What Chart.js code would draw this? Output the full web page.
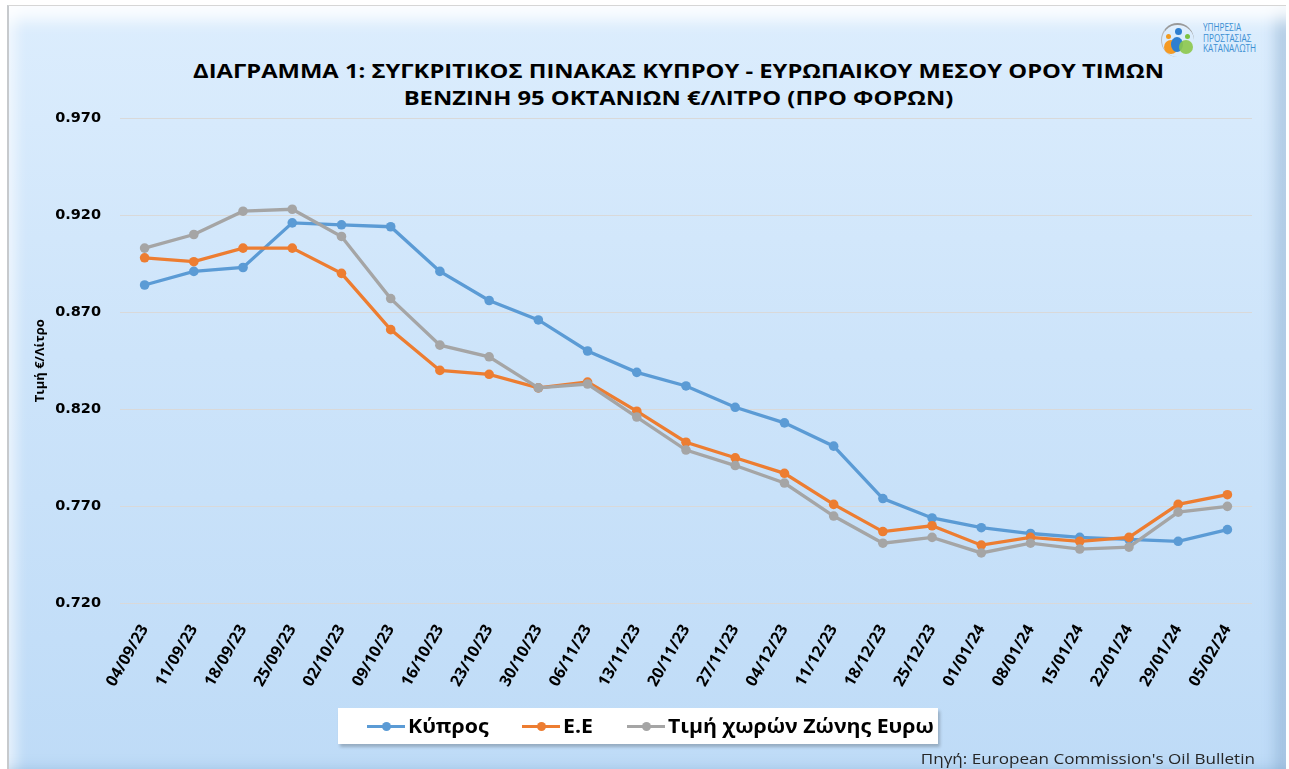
<!DOCTYPE html>
<html>
<head>
<meta charset="utf-8">
<script src="https://cdn.jsdelivr.net/npm/chart.js@4.4.0/dist/chart.umd.min.js"></script>
<style>
  body { margin: 0; background: #fff; width: 1289px; height: 769px; overflow: hidden; position: relative; font-family: "Open Sans", sans-serif; }
  .panel {
    position: absolute; left: 7px; top: 5px; width: 1277px; height: 775px;
    border-left: 2px solid #c7cacd; border-top: 1px solid #d6d6d6;
    background: linear-gradient(to bottom, #dcedfd 0%, #cde4fa 45%, #bedbf7 100%);
    box-shadow: inset 0 24px 16px -10px rgba(255,255,255,0.9),
                inset -18px 0 14px -8px rgba(110,150,190,0.4),
                inset 0 -30px 14px -18px rgba(110,150,190,0.35),
                inset 16px 0 12px -8px rgba(255,255,255,0.55);
  }
  .wrap { position: absolute; left: 0; top: 0; width: 1289px; height: 769px; }
  .title {
    position: absolute; left: 0; top: 58px; width: 1357px; text-align: center;
    font-weight: bold; font-size: 19px; line-height: 27px; color: #000;
    transform: scaleX(1.25); transform-origin: 678.5px 0;
  }
  .logo { position: absolute; left: 1160px; top: 20px; width: 110px; height: 40px; }
  .logo .arc { position: absolute; left: 1px; top: 3px; width: 32px; height: 32px; border-radius: 50%; border-top: 2px solid #9a9a9a; border-left: 1px solid #bbb; }
  .logo .dot { position: absolute; border-radius: 50%; }
  .logo .txt { position: absolute; left: 43px; top: 2px; font-size: 10.5px; line-height: 10.5px; color: #3b8fd3;
    transform: scaleX(0.78); transform-origin: 0 0; }
  .legend {
    position: absolute; left: 338px; top: 708px; width: 600px; height: 36px; background: #fff;
    box-shadow: 2px 3px 3px rgba(0,0,0,0.22);
    font-weight: bold; font-size: 19px; color: #000;
  }
  .legend .item { position: absolute; top: 0; height: 36px; display: flex; align-items: center; }
  .legend .mk { position: relative; width: 38px; height: 3px; margin-right: 3px; }
  .legend .mk span { position: absolute; left: 15px; top: -3px; width: 9px; height: 9px; border-radius: 50%; }
  .legend .lb { display: inline-block; transform: scaleX(1.12); transform-origin: 0 50%; white-space: nowrap; }
  .source { position: absolute; right: 34px; top: 749px; font-size: 14px; color: #262626;
    transform: scaleX(1.22); transform-origin: 100% 50%; }
</style>
</head>
<body>
<div class="panel"></div>
<div class="title">ΔΙΑΓΡΑΜΜΑ 1: ΣΥΓΚΡΙΤΙΚΟΣ ΠΙΝΑΚΑΣ ΚΥΠΡΟΥ - ΕΥΡΩΠΑΙΚΟΥ ΜΕΣΟΥ ΟΡΟΥ ΤΙΜΩΝ<br>ΒΕΝΖΙΝΗ 95 ΟΚΤΑΝΙΩΝ €/ΛΙΤΡΟ (ΠΡΟ ΦΟΡΩΝ)</div>
<div class="logo">
  <div class="arc"></div>
  <div class="dot" style="left:15px;top:8px;width:7px;height:7px;background:#2f7fd0"></div>
  <div class="dot" style="left:6px;top:14px;width:5px;height:5px;background:#f29a1f"></div>
  <div class="dot" style="left:25px;top:14px;width:5px;height:5px;background:#7cc242"></div>
  <div class="dot" style="left:4px;top:20px;width:14px;height:14px;background:#f59a23"></div>
  <div class="dot" style="left:11px;top:17px;width:12px;height:15px;background:#2f7fd0"></div>
  <div class="dot" style="left:19px;top:20px;width:14px;height:14px;background:#8cc84b;opacity:0.9"></div>
  <div class="txt">ΥΠΗΡΕΣΙΑ<br>ΠΡΟΣΤΑΣΙΑΣ<br>ΚΑΤΑΝΑΛΩΤΗ</div>
</div>
<div class="wrap"><canvas id="chart" width="1289" height="769"></canvas></div>
<div class="legend" id="legend"></div>
<div class="source">Πηγή: European Commission's Oil Bulletin</div>

<script>
// εβδομάδες (Δευτέρα)
const dates = ['04/09/23', '11/09/23', '18/09/23', '25/09/23', '02/10/23', '09/10/23', '16/10/23',
  '23/10/23', '30/10/23', '06/11/23', '13/11/23', '20/11/23', '27/11/23', '04/12/23', '11/12/23',
  '18/12/23', '25/12/23', '01/01/24', '08/01/24', '15/01/24', '22/01/24', '29/01/24', '05/02/24'];

// τιμές €/λίτρο προ φόρων
const cyprus = [0.884, 0.891, 0.893, 0.916, 0.915, 0.914, 0.891, 0.876, 0.866, 0.850, 0.839, 0.832,
  0.821, 0.813, 0.801, 0.774, 0.764, 0.759, 0.756, 0.754, 0.753, 0.752, 0.758];
const eu = [0.898, 0.896, 0.903, 0.903, 0.890, 0.861, 0.840, 0.838, 0.831, 0.834, 0.819, 0.803,
  0.795, 0.787, 0.771, 0.757, 0.760, 0.750, 0.754, 0.752, 0.754, 0.771, 0.776];
const eurozone = [0.903, 0.910, 0.922, 0.923, 0.909, 0.877, 0.853, 0.847, 0.831, 0.833, 0.816, 0.799,
  0.791, 0.782, 0.765, 0.751, 0.754, 0.746, 0.751, 0.748, 0.749, 0.767, 0.770];

const seriesNames = ['Κύπρος', 'Ε.Ε', 'Τιμή χωρών Ζώνης Ευρω'];
const seriesColors = ['#5b9bd5', '#ed7d31', '#a5a5a5'];

const yMin = 0.72;
const yMax = 0.97;
const yStep = 0.05;

// θέσεις των στοιχείων του legend μέσα στο πλαίσιο
const legendLeft = [29, 184, 289];

function makeSet(i, values) {
  return {
    label: seriesNames[i],
    data: values,
    borderColor: seriesColors[i],
    backgroundColor: seriesColors[i],
    pointBackgroundColor: seriesColors[i],
    pointBorderWidth: 0,
    pointRadius: 4.8,
    borderWidth: 3.3,
    tension: 0,
    order: 2 - i   // η τελευταία σειρά πάνω από τις άλλες, όπως στο excel
  };
}

function draw() {
  const chart = new Chart(document.getElementById('chart'), {
    type: 'line',
    data: {
      labels: dates,
      datasets: [makeSet(0, cyprus), makeSet(1, eu), makeSet(2, eurozone)]
    },
    options: {
      responsive: false,
      animation: false,
      layout: { padding: { top: 118, left: 30, right: 37, bottom: 69 } },
      plugins: {
        legend: { display: false },
        title: { display: false },
        tooltip: { enabled: false }
      },
      scales: {
        x: {
          offset: true,
          grid: { display: false },
          border: { display: false },
          ticks: {
            autoSkip: false,
            minRotation: 60,
            maxRotation: 60,
            padding: 10,
            color: '#000',
            font: { family: 'Open Sans', weight: 'bold', size: 16 }
          }
        },
        y: {
          min: yMin,
          max: yMax,
          border: { display: false },
          grid: { color: '#d9d9d9', lineWidth: 1, drawTicks: false },
          afterFit: scale => { scale.width = 90; },
          ticks: {
            stepSize: yStep,
            padding: 19,
            color: '#000',
            font: { family: 'DejaVu Sans', weight: 'bold', size: 14.5 },
            callback: v => v.toFixed(3)
          },
          title: {
            display: true,
            text: 'Τιμή €/Λίτρο',
            color: '#000',
            padding: { top: 2, bottom: 4 },
            font: { family: 'Open Sans', weight: 'bold', size: 13 }
          }
        }
      }
    }
  });

  // legend σε άσπρο πλαίσιο
  const legend = document.getElementById('legend');
  chart.data.datasets.forEach((ds, i) => {
    const item = document.createElement('div');
    item.className = 'item';
    item.style.left = legendLeft[i] + 'px';
    item.innerHTML = '<div class="mk" style="background:' + ds.borderColor + '"><span style="background:' +
      ds.borderColor + '"></span></div><span class="lb">' + ds.label + '</span>';
    legend.appendChild(item);
  });
}

Promise.all([
  document.fonts.load('bold 15px "Open Sans"'),
  document.fonts.load('bold 14px "DejaVu Sans"')
]).then(draw, draw);
</script>
</body>
</html>
